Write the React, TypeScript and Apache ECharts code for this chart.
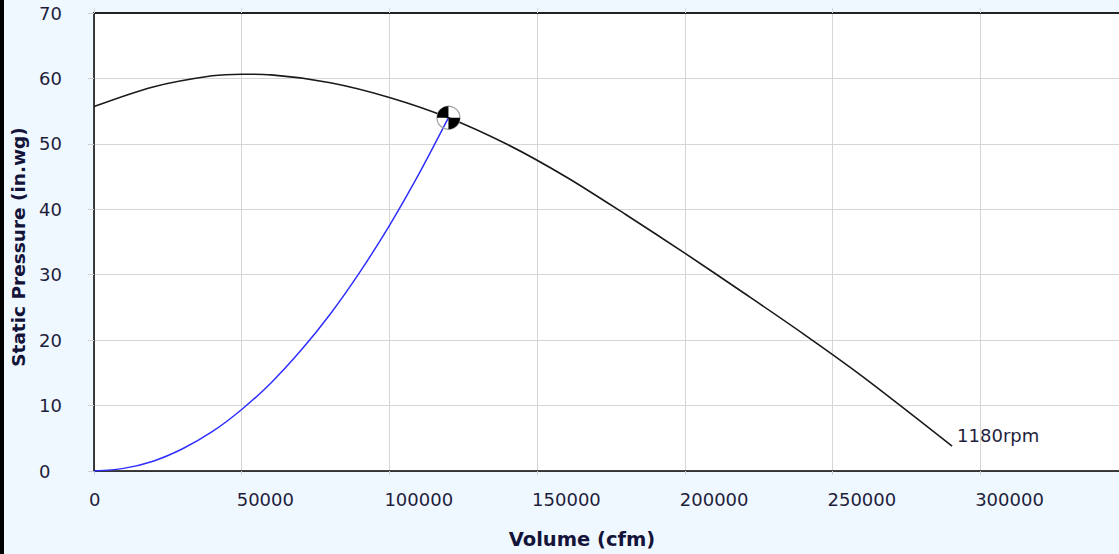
import React, { useEffect, useRef } from "react";
import * as echarts from "echarts";

// Fan curve at 1180 rpm: volume (cfm) vs static pressure (in.wg)
const fanVolume = [0, 20000, 40000, 50000, 60000, 80000, 100000, 120000, 140000, 160000, 180000, 200000, 220000, 240000, 260000, 290500];
const fanPressure = [55.7, 58.7, 60.4, 60.65, 60.55, 59.35, 57.1, 54.0, 49.9, 44.9, 39.2, 33.3, 27.2, 21.0, 14.5, 3.8];

// System curve
const sysVolume = [0, 10000, 20000, 30000, 40000, 50000, 60000, 70000, 80000, 90000, 100000, 110000, 120000];
const sysPressure = [0, 0.4, 1.5, 3.4, 6.0, 9.4, 13.5, 18.4, 24.0, 30.4, 37.5, 45.4, 54.0];

// Operating point
const opPoint = [120000, 54];

const speedLabel = "1180rpm";
const xTitle = "Volume (cfm)";
const yTitle = "Static Pressure (in.wg)";

const X_MIN = 0;
const X_MAX = 347000;
const X_STEP = 50000;
const Y_MIN = 0;
const Y_MAX = 70;
const Y_STEP = 10;

export default function App() {
  const ref = useRef<HTMLDivElement>(null);

  useEffect(() => {
    document.body.style.margin = "0";
    if (!ref.current) return;
    const chart = echarts.init(ref.current, null, { renderer: "svg" });
    const tickFont = { fontFamily: "DejaVu Sans", fontSize: 18, color: "#1e1e3c" };
    const titleBase = { fontFamily: "DejaVu Sans", fontWeight: "bold" as const, color: "#14143a" };

    chart.setOption({
      animation: false,
      backgroundColor: "#F0F8FF",
      graphic: [
        { type: "rect", left: 0, top: 0, shape: { x: 0, y: 0, width: 4, height: 554 }, style: { fill: "#000" }, z: 100 },
      ],
      grid: {
        left: 94,
        top: 13,
        right: 0,
        bottom: 82,
        show: true,
        backgroundColor: "#ffffff",
        borderWidth: 0,
      },
      xAxis: [
        {
          type: "value",
          min: X_MIN,
          max: X_MAX,
          interval: X_STEP,
          position: "bottom",
          name: xTitle,
          nameLocation: "middle",
          nameGap: 58,
          nameTextStyle: { ...titleBase, fontSize: 19.5, padding: [0, 49, 0, 0] },
          axisLine: { show: true, onZero: false, lineStyle: { color: "#000", width: 1.5 } },
          axisTick: { show: true, length: 4, lineStyle: { color: "#d0d0d0", width: 1 } },
          axisLabel: {
            ...tickFont,
            align: "left",
            margin: 19,
            padding: [0, 0, 0, -5],
            showMaxLabel: false,
            formatter: (v: number) => String(v),
          },
          splitLine: { show: true, lineStyle: { color: "#d6d6d6", width: 1 } },
        },
        {
          type: "value",
          min: X_MIN,
          max: X_MAX,
          interval: X_STEP,
          position: "top",
          axisLine: { show: true, onZero: false, lineStyle: { color: "#222", width: 2 } },
          axisTick: { show: true, length: 5, lineStyle: { color: "#d8d8d8", width: 1 } },
          axisLabel: { show: false },
          splitLine: { show: false },
        },
      ],
      yAxis: {
        type: "value",
        min: Y_MIN,
        max: Y_MAX,
        interval: Y_STEP,
        name: yTitle,
        nameLocation: "middle",
        nameRotate: 90,
        nameGap: 63,
        nameTextStyle: { ...titleBase, fontSize: 18.5, padding: [0, 10, 0, 0] },
        axisLine: { show: true, onZero: false, lineStyle: { color: "#000", width: 1.5 } },
        axisTick: { show: true, length: 6, lineStyle: { color: "#d0d0d0", width: 1 } },
        axisLabel: { ...tickFont, align: "left", margin: 55 },
        splitLine: { show: true, lineStyle: { color: "#d6d6d6", width: 1 } },
      },
      series: [
        {
          type: "line",
          name: "fan",
          xAxisIndex: 0,
          data: fanVolume.map((v, i) => [v, fanPressure[i]]),
          smooth: 0.3,
          showSymbol: false,
          symbol: "none",
          lineStyle: { color: "#1a1a1a", width: 1.6 },
          endLabel: {
            show: true,
            formatter: speedLabel,
            distance: 5,
            offset: [0, -11],
            fontFamily: "DejaVu Sans",
            fontSize: 18,
            color: "#1e1e3c",
          },
          z: 3,
        },
        {
          type: "line",
          name: "system",
          xAxisIndex: 0,
          data: sysVolume.map((v, i) => [v, sysPressure[i]]),
          smooth: 0.3,
          showSymbol: false,
          symbol: "none",
          lineStyle: { color: "#2f2fff", width: 1.5 },
          z: 4,
        },
        {
          type: "custom",
          name: "operating point",
          xAxisIndex: 0,
          data: [opPoint],
          z: 10,
          renderItem: (params: any, api: any) => {
            const p = api.coord([api.value(0), api.value(1)]);
            const r = 11.5;
            return {
              type: "group",
              children: [
                { type: "circle", shape: { cx: p[0], cy: p[1], r }, style: { fill: "none", stroke: "#a0a0a0", lineWidth: 1.2 } },
                { type: "sector", shape: { cx: p[0], cy: p[1], r0: 0, r, startAngle: Math.PI, endAngle: Math.PI * 1.5 }, style: { fill: "#000" } },
                { type: "sector", shape: { cx: p[0], cy: p[1], r0: 0, r, startAngle: 0, endAngle: Math.PI / 2 }, style: { fill: "#000" } },
              ],
            };
          },
        },
      ],
    });
    return () => chart.dispose();
  }, []);

  return <div ref={ref} style={{ width: 1119, height: 554 }} />;
}
